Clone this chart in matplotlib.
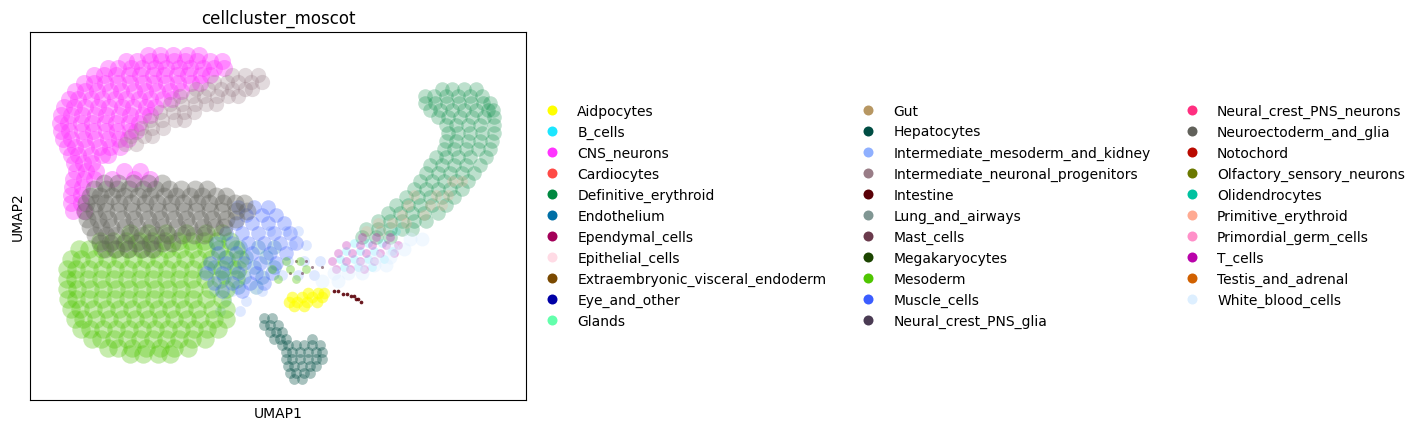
import matplotlib
matplotlib.use("Agg")
import matplotlib.pyplot as plt
from matplotlib.lines import Line2D

categories = ["Aidpocytes", "B_cells", "CNS_neurons", "Cardiocytes", "Definitive_erythroid", "Endothelium",
              "Ependymal_cells", "Epithelial_cells", "Extraembryonic_visceral_endoderm", "Eye_and_other", "Glands",
              "Gut", "Hepatocytes", "Intermediate_mesoderm_and_kidney", "Intermediate_neuronal_progenitors",
              "Intestine", "Lung_and_airways", "Mast_cells", "Megakaryocytes", "Mesoderm", "Muscle_cells",
              "Neural_crest_PNS_glia", "Neural_crest_PNS_neurons", "Neuroectoderm_and_glia", "Notochord",
              "Olfactory_sensory_neurons", "Olidendrocytes", "Primitive_erythroid", "Primordial_germ_cells",
              "T_cells", "Testis_and_adrenal", "White_blood_cells"]
colors = ["#FFFF00", "#1CE6FF", "#FF34FF", "#FF4A46", "#008941", "#006FA6", "#A30059", "#FFDBE5", "#7A4900",
          "#0000A6", "#63FFAC", "#B79762", "#004D43", "#8FB0FF", "#997D87", "#5A0007", "#809693", "#6A3A4C",
          "#1B4400", "#4FC601", "#3B5DFF", "#4A3B53", "#FF2F80", "#61615A", "#BA0900", "#6B7900", "#00C2A0",
          "#FFAA92", "#FF90C9", "#B903AA", "#D16100", "#DDEFFF"]

# Hand-read positions of cell groups in UMAP space: (UMAP2 row, [UMAP1 values])
cns_rows = [
    (56, [148, 160, 173, 187, 199]),
    (62, [126, 137, 150, 161, 174, 185, 197, 210, 222]),
    (69, [108, 118, 131, 142, 155, 166, 179, 190, 203, 214, 224]),
    (76, [94, 104, 116, 129, 140, 153, 164, 177, 188, 201, 210]),
    (84, [84, 94, 105, 118, 130, 143, 154, 166, 178, 191, 200]),
    (92, [75, 85, 97, 110, 121, 134, 145, 157, 170, 181]),
    (100, [69, 78, 91, 102, 115, 126, 139, 150, 163, 172]),
    (108, [64, 74, 85, 98, 109, 122, 133, 146, 155]),
    (116, [61, 71, 82, 95, 106, 119, 130, 143, 150]),
    (124, [60, 68, 81, 92, 105, 116, 129, 139]),
    (132, [61, 69, 82, 93, 106, 117, 130, 136]),
    (140, [63, 71, 84, 95, 108, 119, 128]),
    (148, [67, 75, 86, 99, 110, 120]),
    (156, [71, 78, 91, 102, 108]),
    (164, [74, 83, 92]),
    (172, [76, 86, 96, 124, 140]),
    (180, [73, 84, 94, 112, 134, 150]),
    (188, [72, 82]),
    (196, [71, 81]),
    (204, [71, 81]),
    (212, [73, 84]),
]
neuronal_rows = [
    (76, [232, 245, 258]),
    (83, [214, 227, 238, 251, 262]),
    (90, [196, 208, 221, 232, 245, 252]),
    (97, [180, 193, 204, 217, 228, 238]),
    (105, [170, 182, 195, 206, 216]),
    (113, [160, 173, 184, 194]),
    (121, [150, 162, 175, 184]),
    (129, [141, 152, 163]),
    (137, [131, 144, 152]),
    (145, [125, 136]),
]
neuroect_rows = [
    (184, [104, 118, 133, 148, 162]),
    (190, [94, 106, 117, 129, 143, 155, 169, 181, 195, 207]),
    (197, [90, 100, 112, 124, 138, 150, 164, 176, 190, 202, 216, 226]),
    (204, [86, 96, 105, 119, 131, 145, 157, 171, 183, 197, 209, 223, 235, 244]),
    (212, [85, 94, 106, 118, 132, 144, 158, 170, 184, 196, 210, 222, 236, 247]),
    (220, [87, 98, 108, 122, 134, 148, 160, 174, 186, 200, 212, 226, 236]),
    (228, [90, 101, 111, 125, 137, 151, 163, 177, 189, 203, 215, 224]),
    (236, [95, 106, 116, 130, 142, 156, 168, 182, 194, 204]),
    (244, [100, 110, 124, 136, 150, 162, 172]),
    (250, [105, 116, 128, 142, 152]),
]
mesoderm_rows = [
    (234, [130, 148, 166, 186, 206, 222]),
    (242, [100, 113, 126, 139, 152, 165, 178, 191, 204, 217, 230]),
    (250, [79, 89, 102, 115, 128, 141, 154, 167, 180, 193, 206, 219, 236]),
    (260, [71, 81, 94, 107, 120, 133, 146, 159, 172, 185, 198, 211, 226, 240]),
    (270, [67, 76, 89, 102, 115, 128, 141, 154, 167, 180, 193, 206, 222, 238]),
    (280, [67, 75, 88, 101, 114, 127, 140, 153, 166, 179, 192, 205, 220, 236]),
    (290, [67, 77, 90, 103, 116, 129, 142, 155, 168, 181, 194, 210, 226]),
    (300, [68, 76, 89, 102, 115, 128, 141, 154, 167, 180, 193, 206, 222]),
    (310, [71, 80, 93, 106, 119, 132, 145, 158, 171, 184, 197, 212, 226]),
    (320, [75, 83, 96, 109, 122, 135, 148, 161, 174, 187, 200, 214, 226]),
    (330, [81, 90, 103, 116, 129, 142, 155, 168, 181, 194, 207, 218]),
    (340, [92, 101, 114, 127, 140, 153, 166, 179, 192, 205]),
    (349, [108, 118, 132, 146, 160, 174, 188]),
    (355, [130, 143, 158, 170]),
]
muscle_rows = [
    (208, [238, 254, 268]),
    (216, [246, 262, 276]),
    (224, [236, 252, 268, 284]),
    (234, [226, 242, 258, 274, 290]),
    (244, [216, 232, 248, 264, 280, 296]),
    (254, [218, 236, 252, 270, 286]),
    (264, [210, 226, 244, 260, 276]),
    (274, [206, 222, 238, 256, 272]),
    (284, [214, 232, 250, 264]),
    (292, [222, 242]),
]
endothelium_rows = [
    (248, [240, 258, 274]),
    (258, [226, 246, 266]),
    (268, [214, 234, 254, 274]),
    (278, [224, 244, 262]),
    (288, [238, 256]),
]
intermediate_rows = [
    (232, [270, 286, 298]),
    (246, [292, 306]),
    (262, [288, 304, 320]),
    (276, [282, 298, 314]),
    (292, [214, 232, 262]),
    (302, [226, 246]),
    (312, [220, 240]),
]
tail_green_rows = [
    (262, [286, 300]),
    (270, [272, 290, 306]),
    (280, [278, 296]),
]
tcell_rows = [
    (238, [362, 376, 390]),
    (246, [346, 360, 372, 386, 398]),
    (254, [338, 352, 366, 380, 394]),
    (262, [332, 346, 360, 374]),
    (270, [336, 350, 364]),
]
bcell_rows = [
    (232, [380, 396]),
    (244, [354, 368, 382]),
    (252, [346, 360, 374, 392]),
    (260, [340, 354, 368, 384]),
    (268, [344, 358, 372]),
]
white_rows = [
    (240, [410, 422]),
    (250, [392, 404]),
    (258, [376, 390]),
    (266, [360, 374, 386]),
    (274, [334, 348, 362]),
    (282, [322, 338]),
]
erythroid_rows = [
    (90, [442, 452, 464, 476]),
    (97, [425, 434, 446, 458, 470, 482]),
    (104, [425, 435, 447, 459, 471, 483, 490]),
    (111, [430, 440, 452, 464, 476, 488, 493]),
    (118, [438, 448, 460, 472, 484, 494]),
    (126, [446, 456, 468, 480, 494]),
    (134, [448, 458, 470, 482, 494]),
    (142, [446, 456, 468, 480, 492]),
    (150, [444, 454, 466, 478, 490]),
    (158, [436, 446, 458, 470, 486]),
    (166, [430, 442, 454, 466, 480]),
    (174, [426, 438, 450, 462, 474]),
    (182, [420, 432, 444, 456, 468]),
    (190, [414, 426, 438, 450, 462]),
    (198, [406, 418, 430, 442, 454]),
    (206, [396, 408, 420, 432, 446]),
    (214, [388, 400, 412, 424, 438]),
    (222, [378, 390, 402, 414, 426]),
    (230, [366, 378, 390, 402, 412]),
    (238, [362, 376, 390]),
]
primitive_rows = [
    (182, [452, 462]),
    (196, [414, 436, 448]),
    (206, [408, 430, 442]),
    (216, [402, 424]),
    (224, [378, 392, 406]),
    (232, [366, 380]),
]
aidpocyte_rows = [
    (294, [308, 318, 324]),
    (298, [292, 302, 312, 322]),
    (303, [289, 297, 307, 317]),
    (307, [294, 304]),
]
intestine_rows = [
    (292, [334, 338]),
    (295, [343, 347]),
    (297, [351, 354]),
    (300, [356, 358]),
    (303, [361]),
]
hepatocyte_rows = [
    (319, [264, 272]),
    (326, [264, 270, 278]),
    (333, [270, 276, 282]),
    (340, [274, 280, 286, 312]),
    (346, [282, 288, 296, 304, 312, 320]),
    (353, [286, 292, 300, 308, 316, 322]),
    (360, [286, 292, 300, 308, 316, 322]),
    (367, [288, 294, 302, 310, 316]),
    (374, [290, 296, 304, 310]),
    (380, [294, 302]),
]
mast_rows = [(262, [296, 306]), (268, [312, 322]), (274, [290, 302])]

groups = {
    "CNS_neurons": (cns_rows, 150, 0.36),
    "Intermediate_neuronal_progenitors": (neuronal_rows, 120, 0.28),
    "Neuroectoderm_and_glia": (neuroect_rows, 165, 0.34),
    "Mesoderm": (mesoderm_rows, 175, 0.32),
    "Muscle_cells": (muscle_rows, 110, 0.3),
    "Endothelium": (endothelium_rows, 110, 0.25),
    "Intermediate_mesoderm_and_kidney": (intermediate_rows, 60, 0.28),
    "White_blood_cells": (white_rows, 100, 0.4),
    "B_cells": (bcell_rows, 40, 0.2),
    "T_cells": (tcell_rows, 40, 0.28),
    "Definitive_erythroid": (erythroid_rows, 110, 0.26),
    "Primitive_erythroid": (primitive_rows, 60, 0.22),
    "Aidpocytes": (aidpocyte_rows, 70, 0.55),
    "Intestine": (intestine_rows, 7, 0.9),
    "Hepatocytes": (hepatocyte_rows, 60, 0.34),
    "Mast_cells": (mast_rows, 5, 0.6),
}

fig = plt.figure(figsize=(14.2, 4.31), dpi=100)
ax = fig.add_axes([30 / 1420, 30 / 431, 496 / 1420, 368.5 / 431])

color_of = dict(zip(categories, colors))
for name in categories:
    if name in groups:
        rows, size, alpha = groups[name]
        xs = [x for y, row in rows for x in row]
        ys = [y for y, row in rows for _ in row]
        ax.scatter(xs, ys, s=size, c=color_of[name], alpha=alpha, linewidths=0)
xs = [x for y, row in tail_green_rows for x in row]
ys = [y for y, row in tail_green_rows for _ in row]
ax.scatter(xs, ys, s=40, c=color_of["Mesoderm"], alpha=0.35, linewidths=0)

ax.set_xlim(30, 526)
ax.set_ylim(401, 32)
ax.set_xticks([])
ax.set_yticks([])
ax.set_xlabel("UMAP1")
ax.set_ylabel("UMAP2")
ax.set_title("cellcluster_moscot")

handles = [Line2D([], [], linestyle="none", marker="o", markersize=7.2, markeredgewidth=0, color=c) for c in colors]
ax.legend(handles, categories, ncol=3, loc="center left", bbox_to_anchor=(1, 0.5), frameon=False, fontsize=10)

fig.savefig("out.png", dpi=100)
